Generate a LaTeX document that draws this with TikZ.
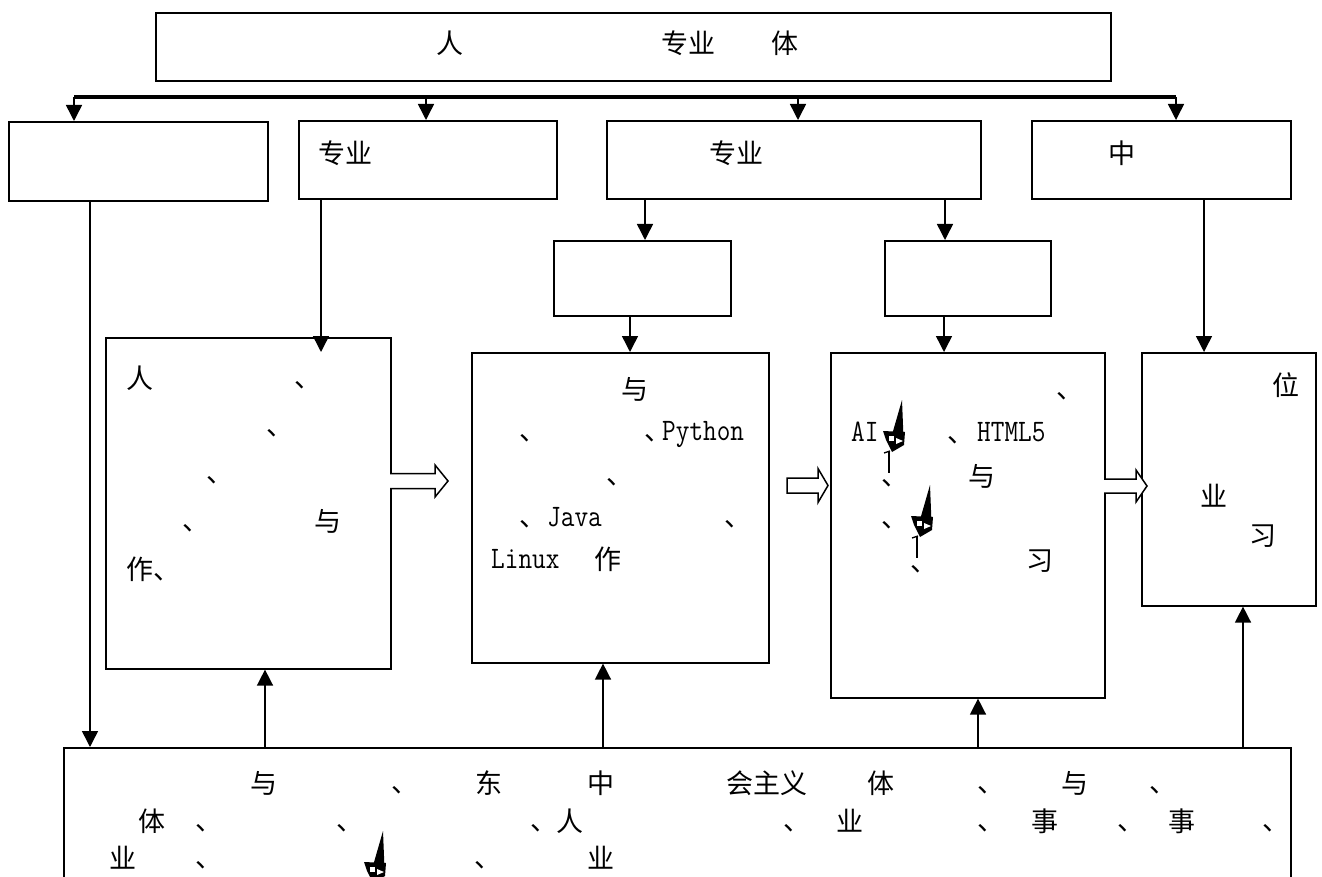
\documentclass[tikz,border=0pt]{standalone}
\usepackage{fontspec}
\usepackage{graphicx}
\newfontfamily\cjk{Noto Sans CJK SC}
\usetikzlibrary{arrows.meta}
\newcounter{tn}
\newcommand\TX[3]{\stepcounter{tn}\node[txt] (t\arabic{tn}) at (#1,#2) {#3};}
\newcommand\TL[3]{\stepcounter{tn}\node[ltxt] (t\arabic{tn}) at (#1,#2) {\scalebox{1}[1.18]{#3}};}
\newcommand\BX[5]{\node[box, minimum width=#4pt, minimum height=#5pt] (#1) at (#2,#3) {};}
\newcommand\GL[2]{%
  \fill (#1,#2) -- ++(1.5,38) -- ++(-11,-5) -- cycle;
  \fill (#1,#2) ++(-19,31) -- ++(22,1) -- ++(-1,13) -- ++(-12,7) -- ++(-6,-12) -- cycle;
  \fill[white] (#1,#2) ++(-13,36) -- ++(5,0) -- ++(0,5) -- ++(-5,0) -- cycle;
  \fill[white] (#1,#2) ++(-6,38) -- ++(7,3) -- ++(-7,3) -- cycle;
  \draw[line width=1.3pt] (#1,#2) ++(-18,53) -- ++(6,-2);
  \draw[line width=1.3pt] (#1,#2) ++(-13,51) -- ++(0,22);
}
\tikzset{
  box/.style={draw, line width=1.6pt, anchor=north west, inner sep=0pt, fill=white},
  txt/.style={anchor=base west, inner sep=0pt, font=\cjk\fontsize{27}{27}\selectfont},
  ltxt/.style={anchor=base west, inner sep=0pt, font=\ttfamily\fontsize{26.5}{27}\selectfont},
  arr/.style={line width=1.5pt, -{Triangle[length=16pt,width=16pt]}},
  hollow/.style={draw, line width=1.5pt, fill=white, line join=miter},
}
\begin{document}
\begin{tikzpicture}[x=1pt,y=-1pt]
\useasboundingbox (0,0) rectangle (1322,877);
\clip (0,0) rectangle (1322,877);
\fill[white] (0,0) rectangle (1322,877);

% boxes
\BX{top}{155}{12}{955}{68}
\BX{b1}{8}{121}{259}{79}
\BX{b2}{298}{120}{258}{78}
\BX{b3}{606}{120}{374}{78}
\BX{b4}{1031}{120}{259}{78}
\BX{s1}{553}{240}{177}{75}
\BX{s2}{884}{240}{166}{75}
\BX{c1}{105}{337}{285}{331}
\BX{c2}{471}{352}{297}{310}
\BX{c3}{830}{352}{274}{345}
\BX{c4}{1141}{352}{174}{253}
\BX{bot}{63}{747}{1227}{200}

% bus
\coordinate (busL) at (74,97);
\coordinate (busR) at (1176,97);
\draw[line width=3.5pt] (busL) -- (busR);
\draw[arr] (74,97) -- (74,0 |- b1.north);
\draw[arr] (426,97) -- (426,0 |- b2.north);
\draw[arr] (798,97) -- (798,0 |- b3.north);
\draw[arr] (1176,97) -- (1176,0 |- b4.north);

% vertical connectors
\coordinate (c1in) at (321,352);
\draw[arr] (90,0 |- b1.south) -- (90,0 |- bot.north);
\draw[arr] (321,0 |- b2.south) -- (c1in);
\draw[arr] (645,0 |- b3.south) -- (645,0 |- s1.north);
\draw[arr] (945,0 |- b3.south) -- (945,0 |- s2.north);
\draw[arr] (630,0 |- s1.south) -- (630,0 |- c2.north);
\draw[arr] (944,0 |- s2.south) -- (944,0 |- c3.north);
\draw[arr] (1204,0 |- b4.south) -- (1204,0 |- c4.north);
\draw[arr] (265,0 |- bot.north) -- (265,0 |- c1.south);
\draw[arr] (603,0 |- bot.north) -- (603,0 |- c2.south);
\draw[arr] (978,0 |- bot.north) -- (978,0 |- c3.south);
\draw[arr] (1243,0 |- bot.north) -- (1243,0 |- c4.south);

% hollow arrows
\draw[hollow] (390,473.5) -- (435,473.5) -- (435,465) -- (448,481) -- (435,497) -- (435,488.5) -- (390,488.5);
\draw[hollow] (787,478) -- (818,478) -- (818,468.5) -- (828,485.5) -- (818,502.5) -- (818,493) -- (787,493) -- cycle;
\draw[hollow] (1104,479) -- (1136,479) -- (1136,470) -- (1147,486) -- (1136,502) -- (1136,493) -- (1104,493);

% top texts
\TX{436}{54}{人}
\TX{661}{54}{专业}
\TX{771}{54}{体}
\TX{318}{164}{专业}
\TX{709}{164}{专业}
\TX{1108}{164}{中}

% c1
\TX{126}{388}{人}
\TX{294}{387}{、}
\TX{266}{435}{、}
\TX{206}{482}{、}
\TX{182}{530}{、}
\TX{314}{531}{与}
\TX{126}{579}{作、}

% c2
\TX{621}{399}{与}
\TX{519}{440}{、}
\TX{644}{440}{、}
\TL{662}{440}{Python}
\TX{606}{484}{、}
\TX{519}{526}{、}
\TL{547}{526}{Java}
\TX{724}{526}{、}
\TL{491}{568}{Linux}
\TX{594}{569}{作}

% c3
\TX{1056}{398}{、}
\TL{851}{441}{AI}
\TX{947}{442}{、}
\TL{977}{441}{HTML5}
\TX{881}{485}{、}
\TX{968}{486}{与}
\TX{881}{527}{、}
\TX{910}{571}{、}
\TX{1026}{570}{习}
\GL{902}{400}
\GL{930}{485}

% c4
\TX{1272}{395}{位}
\TX{1200}{506}{业}
\TX{1249}{545}{习}

% bottom
\TX{250}{793}{与}
\TX{391}{792}{、}
\TX{475}{793}{东}
\TX{587}{793}{中}
\TX{726}{793}{会主义}
\TX{867}{793}{体}
\TX{977}{792}{、}
\TX{1061}{793}{与}
\TX{1149}{792}{、}
\TX{138}{831}{体}
\TX{195}{830}{、}
\TX{336}{830}{、}
\TX{530}{830}{、}
\TX{556}{831}{人}
\TX{783}{830}{、}
\TX{836}{831}{业}
\TX{977}{830}{、}
\TX{1031}{831}{事}
\TX{1117}{830}{、}
\TX{1168}{831}{事}
\TX{1262}{830}{、}
\TX{109}{868}{业}
\TX{195}{867}{、}
\TX{474}{867}{、}
\TX{587}{868}{业}
\GL{383}{831}
\end{tikzpicture}
\end{document}
